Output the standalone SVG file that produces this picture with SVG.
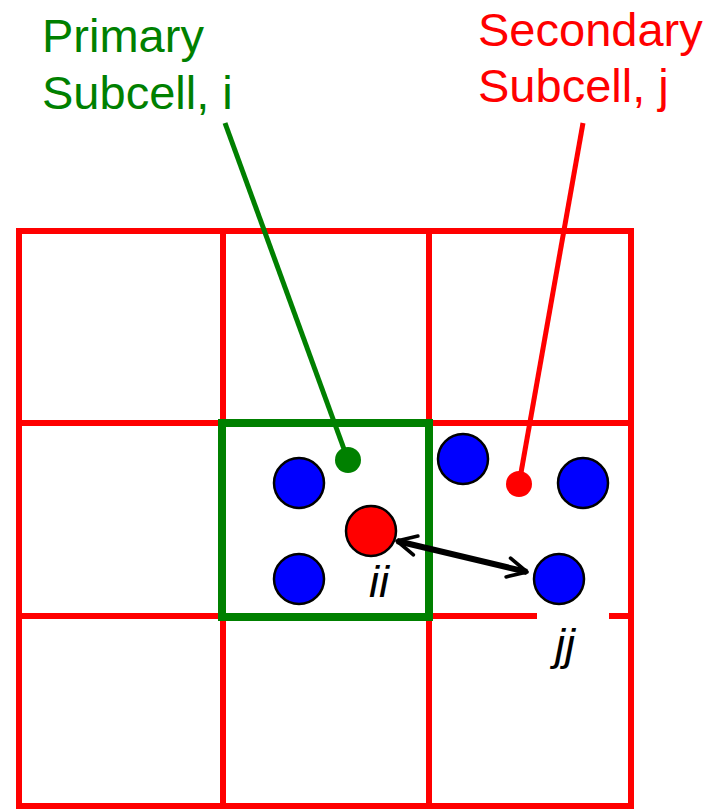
<svg xmlns="http://www.w3.org/2000/svg" width="720" height="809" viewBox="0 0 720 809">
<style>
.cell{fill:none;stroke:#ff0000;stroke-width:6}
.prim{fill:none;stroke:#008000;stroke-width:8}
.blue{fill:#0000ff;stroke:#000;stroke-width:2.5}
.redp{fill:#ff0000;stroke:#000;stroke-width:2.5}
.lbl{font-family:"Liberation Sans",Arial,sans-serif;font-size:47px}
.idx{font-family:"Liberation Sans",Arial,sans-serif;font-size:45px;font-style:italic;fill:#000}
</style>
<defs>
<marker id="chev" viewBox="0 0 10 10" refX="9" refY="5" markerWidth="4" markerHeight="4" orient="auto-start-reverse" markerUnits="strokeWidth">
<path d="M1,1 L9,5 L1,9" fill="none" stroke="#000" stroke-width="1.5" stroke-linecap="round" stroke-linejoin="round"/>
</marker>
</defs>
<rect width="720" height="809" fill="#fff"/>
<g id="grid">
<rect class="cell" x="19" y="231" width="204" height="192"/>
<rect class="cell" x="223" y="231" width="206" height="192"/>
<rect class="cell" x="429" y="231" width="202" height="192"/>
<rect class="cell" x="19" y="423" width="204" height="193"/>
<rect class="cell" x="223" y="423" width="206" height="193"/>
<rect class="cell" x="429" y="423" width="202" height="193"/>
<rect class="cell" x="19" y="616" width="204" height="190"/>
<rect class="cell" x="223" y="616" width="206" height="190"/>
<rect class="cell" x="429" y="616" width="202" height="190"/>
<rect x="537" y="609" width="72" height="14" fill="#fff"/>
</g>
<g id="subcell-i">
<rect class="prim" x="222" y="423" width="207" height="194"/>
</g>
<g id="particles">
<circle class="blue" cx="299" cy="483" r="25"/>
<circle class="blue" cx="299" cy="579" r="25"/>
<circle class="redp" id="ii" cx="371" cy="531" r="25"/>
<circle class="blue" cx="463" cy="459" r="25"/>
<circle class="blue" cx="583" cy="483" r="25"/>
<circle class="blue" id="jj" cx="559" cy="579" r="25"/>
</g>
<g id="connectors">
<line x1="225" y1="123" x2="348" y2="460" stroke="#008000" stroke-width="5"/>
<circle cx="348" cy="460" r="13" fill="#008000"/>
<line x1="583" y1="123" x2="519" y2="484" stroke="#ff0000" stroke-width="5"/>
<circle cx="519" cy="484" r="13" fill="#ff0000"/>
<line x1="397" y1="541" x2="527" y2="572" stroke="#000" stroke-width="6" marker-start="url(#chev)" marker-end="url(#chev)"/>
</g>
<g id="label-primary">
<text class="lbl" fill="#008000" x="42" y="52">Primary</text>
<text class="lbl" fill="#008000" x="42" y="109">Subcell, i</text>
</g>
<g id="label-secondary">
<text class="lbl" fill="#ff0000" x="478" y="46">Secondary</text>
<text class="lbl" fill="#ff0000" x="478" y="102">Subcell, j</text>
</g>
<g id="label-ii"><text class="idx" x="369" y="597">ii</text></g>
<g id="label-jj"><text class="idx" x="555" y="660">jj</text></g>
</svg>
